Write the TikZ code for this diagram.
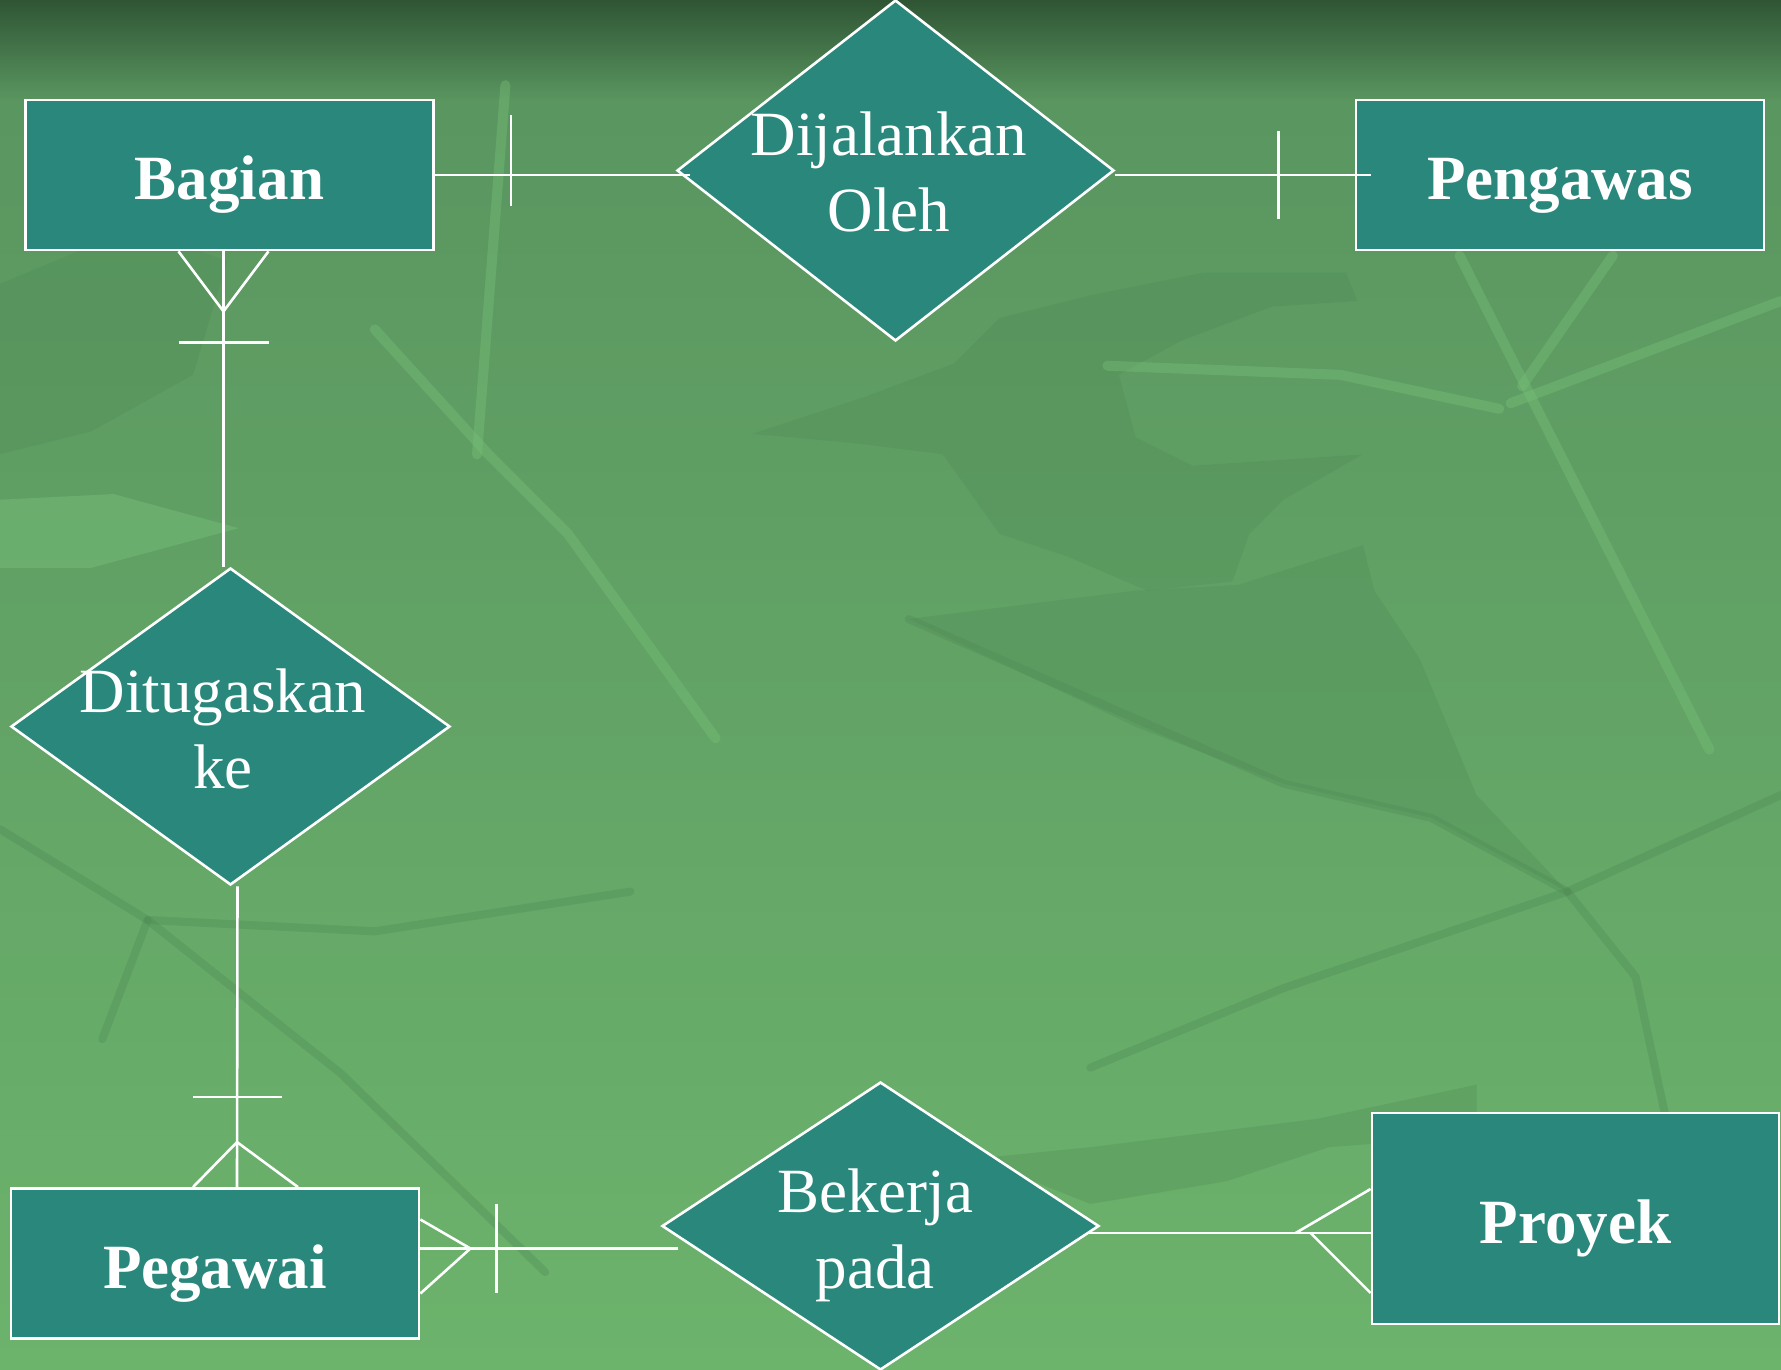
\documentclass[tikz,border=0pt]{standalone}
\usepackage{fontspec}
\setmainfont{Liberation Serif}
\usetikzlibrary{calc, shapes.geometric}

\begin{document}
\begin{tikzpicture}[x=1pt, y=-1pt,
    entity/.style={draw=white, line width=2.8pt, fill=boxColour, minimum width=408, minimum height=150,
        inner sep=0pt, text=white, text height=50pt, text depth=0pt, font=\fontsize{63}{76}\selectfont\bfseries},
    relation/.style={draw=white, line width=2.6pt, fill=boxColour, shape=diamond, inner sep=0pt},
    relText/.style={text=white, align=center, inner sep=0pt, font=\fontsize{63}{76}\selectfont},
    conn/.style={draw=white, line width=2.6pt},
    leafDark/.style={fill=leafColour, fill opacity=0.3, draw=none},
    veinLight/.style={draw=veinColour, draw opacity=0.4, line width=10pt, line cap=round, line join=round},
    veinDark/.style={draw=leafColour, draw opacity=0.35, line width=8pt, line cap=round, line join=round}]
    % Define colours
    \definecolor{boxColour}{HTML}{2A877C}
    \definecolor{topColour}{HTML}{2F5534}
    \definecolor{midColour}{HTML}{5A9660}
    \definecolor{lowColour}{HTML}{6CB36C}
    \definecolor{leafColour}{HTML}{4E8A55}
    \definecolor{veinColour}{HTML}{78C078}

    \useasboundingbox (0,0) rectangle (1781,1370);

    % Draw background
    \begin{scope}
        \clip (0,0) rectangle (1781,1370);
        \shade[top color=midColour, bottom color=lowColour] (0,100) rectangle (1781,1370);
        \shade[top color=topColour, bottom color=midColour] (0,0) rectangle (1781,101);
        \begin{scope}[scale=1.1358]
            % darker leaves
            \fill[leafDark] (880,280) -- (960,260) -- (1060,240) -- (1185,240) -- (1195,265) -- (1120,270) -- (1040,300)
                -- (985,330) -- (1000,385) -- (1050,410) -- (1200,400) -- (1130,440) -- (1100,470) -- (1085,512)
                -- (1010,520) -- (940,490) -- (880,470) -- (830,400) -- (750,390) -- (662,382) -- (760,350) -- (840,320) -- cycle;
            \fill[leafDark] (800,545) -- (1000,520) -- (1090,515) -- (1200,480) -- (1210,520) -- (1250,580)
                -- (1300,700) -- (1380,785) -- (1260,720) -- (1130,690) -- (1000,640) -- cycle;
            \fill[leafDark] (0,250) -- (120,200) -- (200,230) -- (170,330) -- (80,380) -- (0,400) -- cycle;
            \fill[leafDark] (860,1020) -- (960,1010) -- (1160,985) -- (1300,955) -- (1300,1000) -- (1170,1010)
                -- (1080,1040) -- (960,1060) -- cycle;
            % lighter veins
            \draw[veinLight] (1285,225) -- (1505,660);
            \draw[veinLight] (1340,340) -- (1420,225);
            \draw[veinLight] (1330,355) -- (1568,265);
            \draw[veinLight] (975,322) -- (1180,330) -- (1320,360);
            \draw[veinLight] (330,290) -- (430,400) -- (500,470) -- (630,650);
            \draw[veinLight] (420,400) -- (445,75);
            \fill[veinColour, fill opacity=0.45] (0,440) -- (100,435) -- (210,465) -- (80,500) -- (0,500) -- cycle;
            % darker veins
            \draw[veinDark] (0,730) -- (130,810) -- (300,945) -- (480,1120);
            \draw[veinDark] (130,810) -- (330,820) -- (555,785);
            \draw[veinDark] (90,915) -- (130,810);
            \draw[veinDark] (800,545) -- (1130,690) -- (1260,720) -- (1380,785) -- (1440,860) -- (1470,1000);
            \draw[veinDark] (1380,785) -- (1568,700);
            \draw[veinDark] (1380,785) -- (1130,870) -- (960,940);
        \end{scope}
    \end{scope}

    % Draw entities
    \node[entity] (bagian) at (229.5,175) {Bagian};
    \node[entity] (pengawas) at (1560,175) {Pengawas};
    \node[entity] (pegawai) at (215,1263.5) {Pegawai};
    \node[entity, minimum width=407, minimum height=211] (proyek) at (1575.5,1218.5) {Proyek};

    % Draw relationships
    \node[relation, minimum width=437, minimum height=341] (dijalankan) at (895.5,170.5) {};
    \node[relText] (dijalankanText) at (889,172) {Dijalankan\\Oleh};
    \node[relation, minimum width=439, minimum height=317] (ditugaskan) at (230.5,726.5) {};
    \node[relText] (ditugaskanText) at (223,729) {Ditugaskan\\ke};
    \node[relation, minimum width=437, minimum height=288] (bekerja) at (880.5,1226) {};
    \node[relText] (bekerjaText) at (875,1235) {Bekerja\\pada};

    % Bagian -- Dijalankan Oleh
    \draw[conn] (bagian.east) -- ($(bagian.east -| dijalankan.west)+(14,0)$);
    \draw[conn] ($(bagian.east)+(76,-60)$) -- ++(0,91);

    % Dijalankan Oleh -- Pengawas
    \draw[conn] (pengawas.west -| dijalankan.east) -- ($(pengawas.west)+(16,0)$);
    \draw[conn] ($(pengawas.west)+(-76,-44)$) -- ++(0,88);

    % Bagian -- Ditugaskan ke
    \draw[conn] ($(bagian.south)+(-6,0)$) -- ($(ditugaskan.north)+(-7,0)$);
    \draw[conn] ($(bagian.south)+(-51,0)$) -- ($(bagian.south)+(-6,60)$) -- ($(bagian.south)+(39,0)$);
    \draw[conn] ($(bagian.south)+(-51,91)$) -- ++(90,0);

    % Ditugaskan ke -- Pegawai
    \draw[conn] ($(ditugaskan.south)+(7,0)$) -- ($(pegawai.north)+(22,0)$);
    \draw[conn] ($(pegawai.north)+(-22,-90)$) -- ++(89,0);
    \draw[conn] ($(pegawai.north)+(-22,0)$) -- ($(pegawai.north)+(22,-45)$) -- ($(pegawai.north)+(83,0)$);

    % Pegawai -- Bekerja pada
    \draw[conn] ($(pegawai.east)+(0,-15)$) -- ($(pegawai.east)+(258,-15)$);
    \draw[conn] ($(pegawai.east)+(0,-44)$) -- ($(pegawai.east)+(50,-15)$) -- ($(pegawai.east)+(0,30)$);
    \draw[conn] ($(pegawai.east)+(76,-60)$) -- ++(0,89);

    % Bekerja pada -- Proyek
    \draw[conn] ($(proyek.west)+(-284,14.5)$) -- ($(proyek.west)+(0,14.5)$);
    \draw[conn] ($(proyek.west)+(0,-29.5)$) -- ($(proyek.west)+(-75,14.5)$);
    \draw[conn] ($(proyek.west)+(-60,14.5)$) -- ($(proyek.west)+(0,74.5)$);
\end{tikzpicture}
\end{document}
